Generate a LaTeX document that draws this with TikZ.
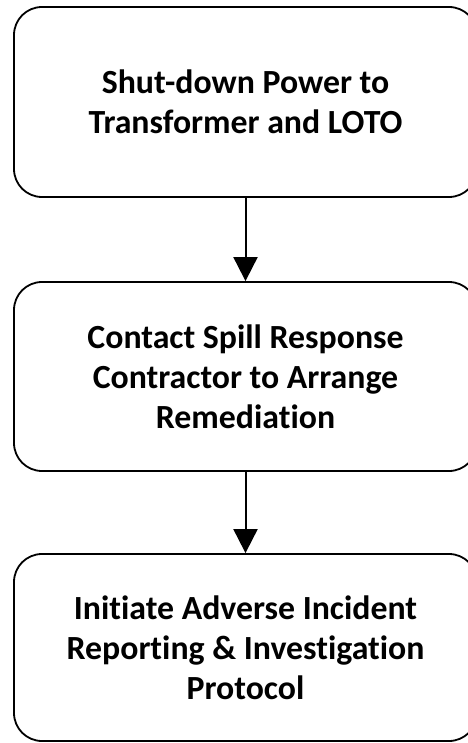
\documentclass[tikz,border=0pt]{standalone}
\usepackage{fontspec}
\setmainfont[Ligatures=NoCommon]{Carlito}
\usetikzlibrary{arrows.meta}

\tikzset{
  stepbox/.style={draw=black, line width=1.8pt, rounded corners=28pt,
    minimum width=463pt, align=center, inner sep=0pt,
    font=\bfseries\fontsize{33.8}{40}\selectfont},
  flow/.style={-{Triangle[width=24pt,length=24pt]}, line width=2pt}
}

\begin{document}
\begin{tikzpicture}[x=1pt, y=-1pt]
                \useasboundingbox (0,0) rectangle (467,743);
                % Steps
                \node[stepbox, minimum height=190pt] (shutdown) at (245.5,102) {Shut-down Power to\\Transformer and LOTO};
                \node[stepbox, minimum height=189pt] (contact) at (245.5,376.5) {Contact Spill Response\\Contractor to Arrange\\Remediation};
                \node[stepbox, minimum height=187pt] (report) at (245.5,647.5) {Initiate Adverse Incident\\Reporting \& Investigation\\Protocol};
                % Arrows
                \draw[flow] (shutdown) -- (contact);
                \draw[flow] (contact) -- (report);
            \end{tikzpicture}
\end{document}
